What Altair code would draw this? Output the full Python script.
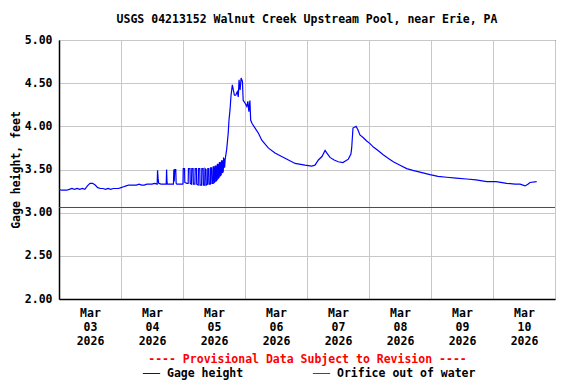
import altair as alt
import pandas as pd

TITLE = "USGS 04213152 Walnut Creek Upstream Pool, near Erie, PA"
SUBTITLE = "---- Provisional Data Subject to Revision ----"
Y_TITLE = "Gage height, feet"
SERIES = ["Gage height", "Orifice out of water"]
COLORS = ["#0000ff", "#ff0000"]

# hours since Mar 03 2026 00:00
HOURS = [
    0, 1, 2, 3, 4, 5, 6, 7, 8, 9, 10, 11, 12, 13, 14, 15, 16, 17, 18, 19, 20, 21, 22, 23,
    24, 25, 26, 27, 28, 29, 30, 31, 32, 33, 34, 35, 36, 37,
    38.0, 38.15, 38.35, 38.6, 39.5, 40.5, 41.5, 41.65, 41.8, 41.95, 43.0, 44.3,
    44.45, 44.6, 44.8, 44.95, 45.2, 45.35, 45.6, 46.5, 47.9,
    48.0, 48.1, 48.6, 48.7, 49.5, 50.0, 50.1, 50.7, 50.8, 51.3, 51.4, 51.9, 52.0,
    52.6, 52.7, 53.2, 53.3, 53.9, 54.0, 54.5, 54.6, 55.2, 55.3, 55.8, 55.9,
    56.4, 56.5, 56.9, 57.0, 57.5, 57.6, 58.0, 58.1, 58.6, 58.7, 59.1, 59.2,
    59.6, 59.7, 60.0, 60.1, 60.4, 60.5, 60.8, 60.9, 61.2, 61.3, 61.6, 61.7,
    62.0, 62.1, 62.4, 62.5, 62.8, 62.9, 63.2, 63.3, 63.6, 63.7, 64.0, 64.1,
    64.3, 64.9, 65.5, 65.8, 66.2, 66.6, 67.1, 67.5, 67.9, 68.4, 69.0, 69.4,
    69.7, 70.1, 70.5, 71.0, 71.3, 72.0, 72.7, 73.1, 73.5, 73.9, 74.2, 74.8,
    75.9, 77.2, 78.5, 81.0, 83.6, 87.5, 91.4, 95.2, 97.8, 99.1, 100.4, 101.8,
    103.0, 103.7, 104.9, 106.5, 108.1, 109.9, 112.0, 113.0, 113.3, 113.8,
    115.0, 115.7, 116.5, 117.7, 119.1, 120.4, 121.7, 123.5, 125.5, 127.4,
    129.4, 132.0, 134.6, 137.0, 139.7, 143.6, 146.7, 150.1, 153.7, 157.8,
    161.4, 165.6, 169.2, 173.3, 176.5, 178.5, 180.4, 181.5, 182.3, 184.9,
]
GAGE = [
    3.27, 3.26, 3.26, 3.26, 3.27, 3.28, 3.27, 3.28, 3.27, 3.28, 3.27, 3.31, 3.34, 3.34, 3.32, 3.29, 3.28, 3.28, 3.27, 3.28, 3.27, 3.28, 3.28, 3.28,
    3.29, 3.30, 3.31, 3.32, 3.32, 3.32, 3.32, 3.33, 3.32, 3.32, 3.33, 3.33, 3.33, 3.34,
    3.33, 3.49, 3.40, 3.34, 3.33, 3.33, 3.33, 3.50, 3.36, 3.33, 3.33, 3.33,
    3.50, 3.36, 3.50, 3.50, 3.50, 3.34, 3.33, 3.33, 3.33,
    3.34, 3.51, 3.51, 3.35, 3.34, 3.34, 3.51, 3.51, 3.34, 3.33, 3.51, 3.51, 3.33,
    3.33, 3.51, 3.51, 3.33, 3.32, 3.51, 3.51, 3.32, 3.32, 3.51, 3.51, 3.32,
    3.32, 3.51, 3.50, 3.32, 3.33, 3.51, 3.51, 3.33, 3.33, 3.52, 3.52, 3.34,
    3.34, 3.53, 3.53, 3.35, 3.36, 3.54, 3.54, 3.37, 3.38, 3.56, 3.56, 3.40,
    3.41, 3.58, 3.58, 3.43, 3.44, 3.60, 3.60, 3.46, 3.48, 3.63, 3.62, 3.52,
    3.61, 3.73, 3.92, 4.07, 4.19, 4.36, 4.48, 4.42, 4.36, 4.36, 4.40, 4.34,
    4.54, 4.42, 4.56, 4.52, 4.30, 4.27, 4.23, 4.29, 4.17, 4.30, 4.07, 4.03,
    3.98, 3.92, 3.84, 3.75, 3.69, 3.63, 3.57, 3.55, 3.54, 3.55, 3.61, 3.65,
    3.72, 3.69, 3.64, 3.61, 3.59, 3.58, 3.62, 3.68, 3.75, 3.98,
    4.00, 3.96, 3.90, 3.87, 3.83, 3.80, 3.76, 3.72, 3.67, 3.63,
    3.59, 3.55, 3.51, 3.49, 3.47, 3.44, 3.42, 3.41, 3.40, 3.39,
    3.38, 3.36, 3.36, 3.34, 3.33, 3.33, 3.31, 3.33, 3.35, 3.36,
]
ORIFICE_LEVEL = [3.06]
X_DOMAIN = [0, 192]
Y_DOMAIN = [2.0, 5.0]
Y_TICKS = [2.0, 2.5, 3.0, 3.5, 4.0, 4.5, 5.0]
DAY_LABELS = [
    ["Mar", "03", "2026"], ["Mar", "04", "2026"], ["Mar", "05", "2026"], ["Mar", "06", "2026"],
    ["Mar", "07", "2026"], ["Mar", "08", "2026"], ["Mar", "09", "2026"], ["Mar", "10", "2026"],
]

FONT = "DejaVu Sans Mono"
FS = 11.5
GRID = "#c8c8c8"

gage = pd.DataFrame({"h": HOURS, "v": GAGE, "s": SERIES[0]})
orifice = pd.DataFrame({"v": ORIFICE_LEVEL, "s": SERIES[1]})

label_js = "[" + ",".join("[" + ",".join("'%s'" % t for t in d) + "]" for d in DAY_LABELS) + "]"
label_expr = f"datum.value % 24 == 12 ? {label_js}[(datum.value - 12) / 24] : ''"

color = alt.Color(
    "s:N",
    scale=alt.Scale(domain=SERIES, range=COLORS),
    legend=alt.Legend(
        title=None, orient="none", direction="horizontal", legendX=83, legendY=324,
        symbolType="stroke", symbolSize=300, symbolStrokeWidth=1, labelFont=FONT,
        labelFontSize=FS, labelFontWeight="bold", labelColor="black", labelOffset=6,
        columnPadding=66, padding=0, labelLimit=300,
    ),
)

x_enc = alt.X(
    "h:Q",
    scale=alt.Scale(domain=X_DOMAIN, nice=False, zero=False),
    axis=alt.Axis(
        values=list(range(0, 193, 12)), labelExpr=label_expr, ticks=False,
        gridColor=GRID, gridWidth=1, domainColor="black", domainWidth=1.5,
        gridOpacity={"condition": {"test": "datum.value % 24 == 0", "value": 1}, "value": 0},
        labelFlush=False, labelBaseline="top", labelLineHeight=14, labelPadding=8,
        labelFont=FONT, labelFontSize=FS, labelFontWeight="bold", labelColor="black",
        title=SUBTITLE, titleColor="#ff0000", titlePadding=7,
        titleFont=FONT, titleFontSize=FS, titleFontWeight="bold",
    ),
)
y_enc = alt.Y(
    "v:Q",
    scale=alt.Scale(domain=Y_DOMAIN, nice=False, zero=False),
    axis=alt.Axis(
        values=Y_TICKS, format=".2f", ticks=False, labelPadding=7,
        gridColor=GRID, gridWidth=1, domainColor="black", domainWidth=1.5,
        labelFont=FONT, labelFontSize=FS, labelFontWeight="bold", labelColor="black",
        title=Y_TITLE, titlePadding=3, titleColor="black",
        titleFont=FONT, titleFontSize=FS, titleFontWeight="bold",
    ),
)

line = alt.Chart(gage).mark_line(strokeWidth=1.2, clip=True).encode(x=x_enc, y=y_enc, color=color)
rule = alt.Chart(orifice).mark_rule(strokeWidth=1).encode(y="v:Q", color=color)

chart = (
    alt.layer(rule, line)
    .properties(
        width=496, height=259,
        title=alt.Title(TITLE, font=FONT, fontSize=FS, fontWeight="bold", color="black", offset=9),
        autosize=alt.AutoSizeParams(type="none"),
        padding={"left": 51, "top": 32, "right": 13, "bottom": 84},
        background="white",
        view=alt.ViewBackground(stroke="black", strokeWidth=1),
    )
)

chart.save("out.html", embed_options={"renderer": "svg", "actions": False})
